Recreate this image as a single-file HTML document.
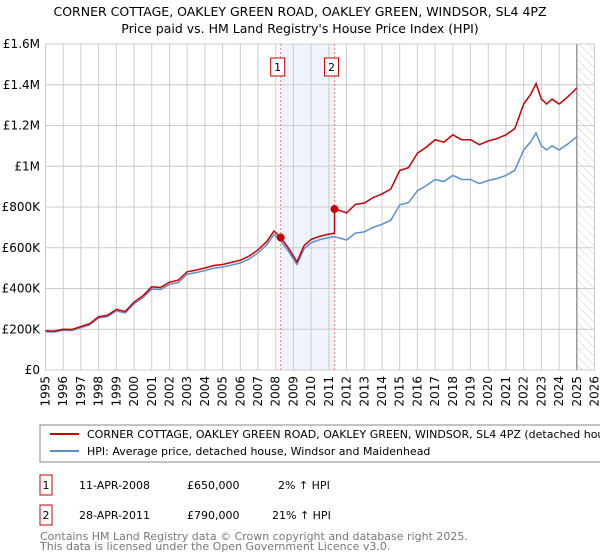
<!DOCTYPE html>
<html><head><meta charset="utf-8"><style>
body{margin:0;width:600px;height:560px;background:#fff;font-family:"Liberation Sans","DejaVu Sans",sans-serif;overflow:hidden}
svg{position:absolute;left:0;top:0}
</style></head><body>
<svg width="600" height="560" font-family="DejaVu Sans, Liberation Sans, sans-serif">
<defs><pattern id="hatch" width="6" height="6" patternUnits="userSpaceOnUse" patternTransform="rotate(-45)"><line x1="0" y1="0" x2="0" y2="6" stroke="#ccc" stroke-width="1"/></pattern></defs>
<g font-size="12.5" text-anchor="middle" fill="#000">
<text x="300" y="16">CORNER COTTAGE, OAKLEY GREEN ROAD, OAKLEY GREEN, WINDSOR, SL4 4PZ</text>
<text x="300" y="33">Price paid vs. HM Land Registry's House Price Index (HPI)</text>
</g>
<g id="grid"></g><g id="axes"></g><g id="series"></g>
<g>
<rect x="40" y="425" width="580" height="37" fill="#fff" stroke="#888"/>
<line x1="50" y1="434" x2="79" y2="434" stroke="#cc0000" stroke-width="2"/>
<text x="87" y="438" font-size="11">CORNER COTTAGE, OAKLEY GREEN ROAD, OAKLEY GREEN, WINDSOR, SL4 4PZ (detached house)</text>
<line x1="50" y1="451" x2="79" y2="451" stroke="#5b8fd4" stroke-width="2"/>
<text x="87" y="455" font-size="11">HPI: Average price, detached house, Windsor and Maidenhead</text>
</g>
<g font-size="11">
<rect x="40" y="475" width="12" height="20" fill="none" stroke="#cc0000"/><text x="46" y="489" text-anchor="middle">1</text>
<text x="79" y="489">11-APR-2008</text><text x="187" y="489">£650,000</text><text x="278" y="489">2% ↑ HPI</text>
<rect x="40" y="505" width="12" height="20" fill="none" stroke="#cc0000"/><text x="46" y="519" text-anchor="middle">2</text>
<text x="79" y="519">28-APR-2011</text><text x="187" y="519">£790,000</text><text x="272" y="519">21% ↑ HPI</text>
</g>
<g font-size="11" fill="#777">
<text x="40" y="540">Contains HM Land Registry data © Crown copyright and database right 2025.</text>
<text x="40" y="550">This data is licensed under the Open Government Licence v3.0.</text>
</g>
</svg>
<script>
const hpiYears=[1995,1995.5,1996,1996.5,1997,1997.5,1998,1998.5,1999,1999.5,2000,2000.5,2001,2001.5,2002,2002.5,2003,2003.5,2004,2004.5,2005,2005.5,2006,2006.5,2007,2007.5,2007.9,2008.3,2008.7,2009.2,2009.6,2010,2010.5,2011,2011.3,2011.6,2012,2012.5,2013,2013.5,2014,2014.5,2015,2015.5,2016,2016.5,2017,2017.5,2018,2018.5,2019,2019.5,2020,2020.5,2021,2021.5,2022,2022.4,2022.7,2023,2023.3,2023.6,2024,2024.5,2025];
const hpiValues=[188,186,195,194,208,222,255,262,290,280,325,355,398,395,420,430,470,478,488,500,505,515,525,545,575,615,665,632,585,518,595,625,640,650,654,648,638,672,678,700,715,735,810,822,880,905,935,925,955,935,935,915,930,940,955,980,1080,1120,1163,1100,1080,1100,1080,1110,1145];
const saleYears=[2008.28,2011.32];
const salePrices=[650,790];
const yTicks=[0,200,400,600,800,1000,1200,1400,1600];
const yTickLabels=["£0","£200K","£400K","£600K","£800K","£1M","£1.2M","£1.4M","£1.6M"];
const xTicks=[1995,1996,1997,1998,1999,2000,2001,2002,2003,2004,2005,2006,2007,2008,2009,2010,2011,2012,2013,2014,2015,2016,2017,2018,2019,2020,2021,2022,2023,2024,2025,2026];
const ns="http://www.w3.org/2000/svg";
const X0=45.5,X1=594.5,Y0=370,Y1=44;
const xs=y=>X0+(y-1995)/(2026-1995)*(X1-X0);
const ys=v=>Y0-v/1600*(Y0-Y1);
function mk(t,a,p){const e=document.createElementNS(ns,t);for(const k in a)e.setAttribute(k,a[k]);p.appendChild(e);return e;}
const grid=document.getElementById('grid'),axes=document.getElementById('axes'),ser=document.getElementById('series');
const shade=mk('rect',{x:xs(saleYears[0]),y:Y1,width:xs(saleYears[1])-xs(saleYears[0]),height:Y0-Y1,fill:'#eef3fc'},grid);

const fut=mk('rect',{x:xs(2025),y:Y1,width:X1-xs(2025),height:Y0-Y1,fill:'url(#hatch)'},grid);

xTicks.forEach(t=>{const l=mk('line',{x1:xs(t),x2:xs(t),y1:Y1,y2:Y0,stroke:'#ccc'},grid);

const tx=mk('text',{x:0,y:0,'font-size':12,'text-anchor':'end',transform:`translate(${xs(t)+4},${Y0+6}) rotate(-90)`},axes);tx.textContent=t;
});
yTicks.forEach((t,i)=>{const l=mk('line',{x1:X0,x2:X1,y1:ys(t),y2:ys(t),stroke:'#ccc'},grid);

const tx=mk('text',{x:40,y:ys(t)+4,'font-size':12,'text-anchor':'end'},axes);tx.textContent=yTickLabels[i];
});
const nl=mk('line',{x1:xs(2025),x2:xs(2025),y1:Y1,y2:Y0,stroke:'#999','stroke-width':1.5},grid);

function hpiAt(y){for(let i=1;i<hpiYears.length;i++)if(y<=hpiYears[i]){const f=(y-hpiYears[i-1])/(hpiYears[i]-hpiYears[i-1]);return hpiValues[i-1]+f*(hpiValues[i]-hpiValues[i-1]);}return hpiValues[hpiValues.length-1];}
const r1=salePrices[0]/hpiAt(saleYears[0]),r2=salePrices[1]/hpiAt(saleYears[1]);
saleYears.forEach((s,i)=>{const l=mk('line',{x1:xs(s),x2:xs(s),y1:Y1,y2:Y0,stroke:'#f08080','stroke-dasharray':'2,2'},grid);

const g=mk('g',{},axes);
mk('rect',{x:xs(s)-10,y:58,width:14,height:18,fill:'#fff',stroke:'#cc0000'},g);
const t=mk('text',{x:xs(s)-3,y:71,'font-size':11,'text-anchor':'middle'},g);t.textContent=i+1;});
let bp=[],rp=[];
hpiYears.forEach((y,i)=>{bp.push(xs(y)+','+ys(hpiValues[i]));});
const redYears=[...hpiYears.filter(y=>y<saleYears[1]),saleYears[1],...hpiYears.filter(y=>y>saleYears[1])];
redYears.forEach((y,i)=>{let v;if(y<saleYears[1])v=hpiAt(y)*r1;else v=hpiAt(y)*r2;rp.push(xs(y)+','+ys(v));
if(y<saleYears[1]&&redYears[i+1]>=saleYears[1])rp.push(xs(saleYears[1])+','+ys(hpiAt(saleYears[1])*r1));});
const b=mk('polyline',{points:bp.join(' '),fill:'none',stroke:'#5b8fd4','stroke-width':1.5},ser);

const r=mk('polyline',{points:rp.join(' '),fill:'none',stroke:'#cc0000','stroke-width':1.5},ser);

saleYears.forEach((s,i)=>{const c=mk('circle',{cx:xs(s),cy:ys(salePrices[i]),r:4,fill:'#cc0000'},ser);
});
</script>
</body></html>
